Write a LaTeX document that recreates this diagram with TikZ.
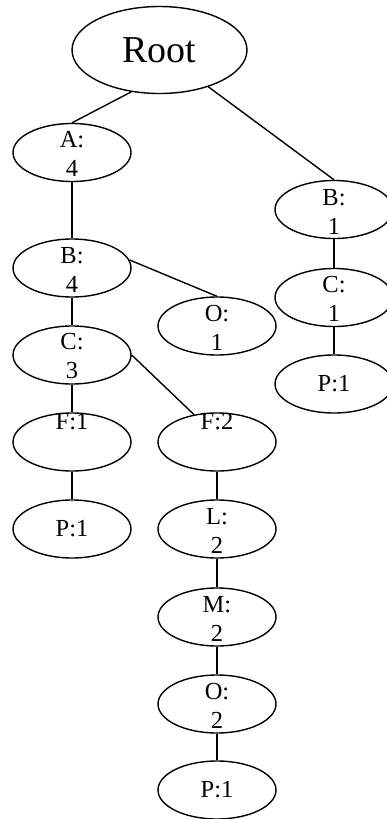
\documentclass[tikz,border=0pt]{standalone}
\usepackage{fontspec}
\setmainfont{Liberation Serif}
\usetikzlibrary{shapes.geometric}
\tikzset{
  ell/.style={ellipse, draw, line width=1.4pt, minimum width=118pt, minimum height=58pt, inner sep=0pt},
  rootell/.style={ellipse, draw, line width=1.4pt, minimum width=175pt, minimum height=87pt, inner sep=0pt},
  txt/.style={inner sep=0pt, align=center, font=\fontsize{24.5}{29}\selectfont},
  roottxt/.style={inner sep=0pt, font=\fontsize{38}{44}\selectfont},
  edge/.style={line width=1.4pt}
}
\begin{document}
\begin{tikzpicture}[x=1pt,y=-1pt]
\useasboundingbox[fill=white] (0,0) rectangle (387,819);
% ellipses
\node[rootell] (root) at (159.5,50) {};
\node[ell] (a4) at (72,152.5) {};
\node[ell] (b4) at (72,268) {};
\node[ell] (o1) at (217,326) {};
\node[ell] (c3) at (72,355) {};
\node[ell] (f1) at (72,442) {};
\node[ell] (p1a) at (72,529) {};
\node[ell] (f2) at (217,442) {};
\node[ell] (l2) at (217,529) {};
\node[ell] (m2) at (217,617) {};
\node[ell] (o2) at (217,704) {};
\node[ell] (p1b) at (217,790) {};
\node[ell] (b1) at (334,209.5) {};
\node[ell] (c1) at (334,297.5) {};
\node[ell] (p1c) at (334,384) {};
% texts
\node[roottxt] (troot) at (root.center) {Root};
\node[txt, yshift=-1.5pt] (ta4) at (a4.center) {A:\\4};
\node[txt, yshift=-1.5pt] (tb4) at (b4.center) {B:\\4};
\node[txt, yshift=-1.5pt] (to1) at (o1.center) {O:\\1};
\node[txt, yshift=-1.5pt] (tc3) at (c3.center) {C:\\3};
\node[txt, yshift=20pt] (tf1) at (f1.center) {F:1};
\node[txt] (tp1a) at (p1a.center) {P:1};
\node[txt, yshift=20pt] (tf2) at (f2.center) {F:2};
\node[txt, yshift=-1.5pt] (tl2) at (l2.center) {L:\\2};
\node[txt, yshift=-1.5pt] (tm2) at (m2.center) {M:\\2};
\node[txt, yshift=-1.5pt] (to2) at (o2.center) {O:\\2};
\node[txt] (tp1b) at (p1b.center) {P:1};
\node[txt, yshift=-2.5pt] (tb1) at (b1.center) {B:\\1};
\node[txt, yshift=-1pt] (tc1) at (c1.center) {C:\\1};
\node[txt] (tp1c) at (p1c.center) {P:1};
% edges
\draw[edge] (root.-124) -- (a4.north);
\draw[edge] (root.-37) -- (b1.north);
\draw[edge] (a4.south) -- (b4.north);
\draw[edge] (b4.8) -- (o1.north);
\draw[edge] (b4.south) -- (c3.north);
\draw[edge] (c3.east) -- (f2.130);
\draw[edge] (c3.south) -- (f1.north);
\draw[edge] (f1.south) -- (p1a.north);
\draw[edge] (f2.south) -- (l2.north);
\draw[edge] (l2.south) -- (m2.north);
\draw[edge] (m2.south) -- (o2.north);
\draw[edge] (o2.south) -- (p1b.north);
\draw[edge] (b1.south) -- (c1.north);
\draw[edge] (c1.south) -- (p1c.north);
\end{tikzpicture}
\end{document}
